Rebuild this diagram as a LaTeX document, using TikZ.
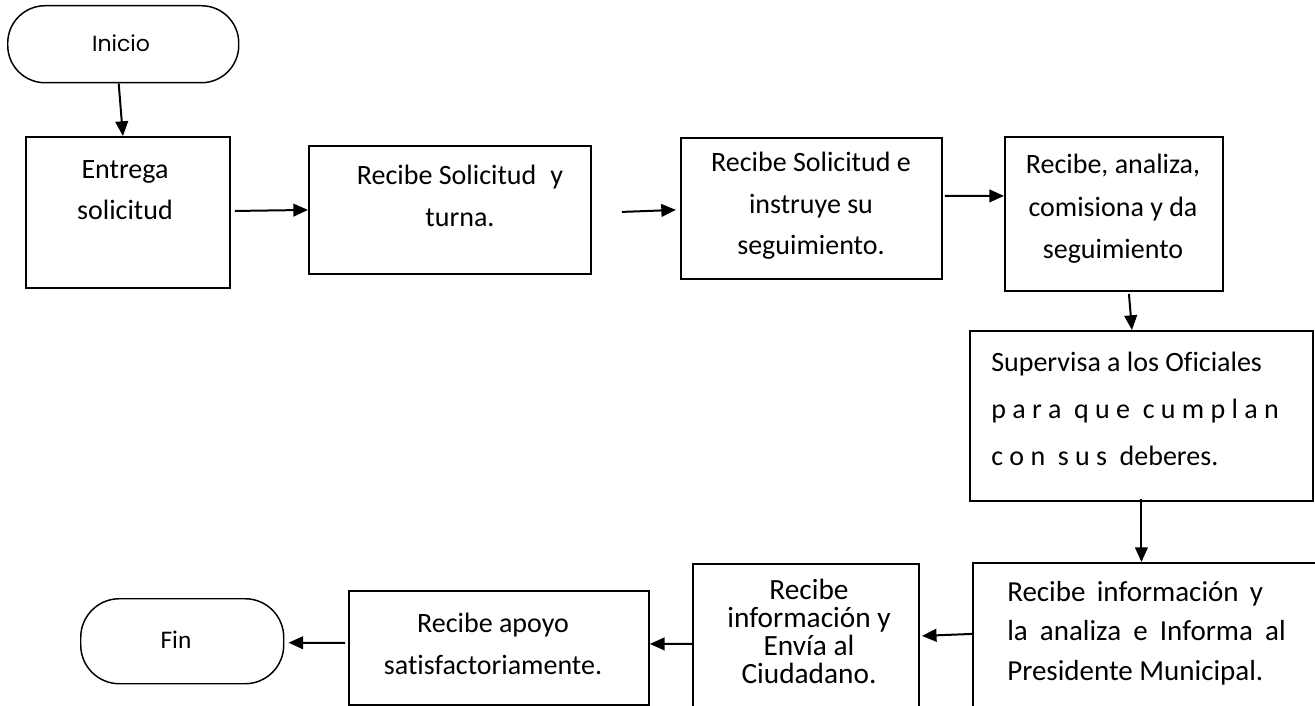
\documentclass[tikz,border=0pt]{standalone}
\usepackage{fontspec}
\setmainfont{Carlito}[Ligatures=NoCommon]
\newfontfamily\gothic{Poppins}
\usetikzlibrary{arrows.meta,shapes.misc}
\begin{document}
\begin{tikzpicture}[x=0.75pt,y=-0.75pt,
  box/.style={draw,line width=1.4pt,rectangle,inner sep=0pt,anchor=north west},
  term/.style={draw,line width=1.1pt,rectangle,rounded corners=#1,inner sep=0pt,anchor=north west},
  txt/.style={font=\fontsize{21}{31}\selectfont,align=center,inner sep=0pt},
  ltxt/.style={font=\fontsize{21}{31}\selectfont,align=left,inner sep=0pt,anchor=west},
  flow/.style={line width=1.5pt,-{Triangle[length=11pt,width=9.5pt]}}]
\useasboundingbox (0,0) rectangle (1315,706);
\clip (0,0) rectangle (1315,706);

% terminals
\node[term=28pt,minimum width=231*0.75pt,minimum height=77*0.75pt] (ini) at (7,5) {};
\node[font=\gothic\fontsize{16.5}{18}\selectfont] (tini) at (121,43) {Inicio};
\node[term=29pt,minimum width=203*0.75pt,minimum height=85*0.75pt] (fin) at (80,598) {};
\node[font=\fontsize{19}{22}\selectfont] (tfin) at (176,640) {Fin};

% process boxes
\node[box,minimum width=204*0.75pt,minimum height=151*0.75pt] (b1) at (25,136) {};
\node[box,minimum width=282*0.75pt,minimum height=128*0.75pt] (b2) at (308,145) {};
\node[box,minimum width=261*0.75pt,minimum height=141*0.75pt] (b3) at (680,137) {};
\node[box,minimum width=218*0.75pt,minimum height=154*0.75pt] (b4) at (1004,136) {};
\node[box,minimum width=343*0.75pt,minimum height=170*0.75pt] (b5) at (969,330) {};
\node[box,minimum width=358*0.75pt,minimum height=158*0.75pt] (b6) at (972,562) {};
\node[box,minimum width=226*0.75pt,minimum height=157*0.75pt] (b7) at (692,563) {};
\node[box,minimum width=300*0.75pt,minimum height=114*0.75pt] (b8) at (348,590) {};

% box texts
\node[txt] (t1) at (125,190) {Entrega\\solicitud};
\node[txt] (t2) at (460,196) {Recibe Solicitud\hspace{0.5em}y\\turna.};
\node[txt] (t3) at (811,206) {Recibe Solicitud e\\instruye su\\seguimiento.};
\node[txt,font=\fontsize{21}{32}\selectfont] (t4) at (1113,209) {Recibe, analiza,\\comisiona y da\\seguimiento};
\node[ltxt,font=\fontsize{21}{35}\selectfont] (t5) at (991,409) {Supervisa a los Oficiales\\p a r a\hspace{0.45em}q u e\hspace{0.45em}c u m p l a n\\c o n\hspace{0.45em}s u s\hspace{0.45em}deberes.};
\node[ltxt,font=\fontsize{21.75}{29.6}\selectfont] (t6) at (1007,633) {Recibe\hspace{0.39em}información\hspace{0.39em}y\\la\hspace{0.42em}analiza\hspace{0.42em}e\hspace{0.42em}Informa\hspace{0.42em}al\\Presidente Municipal.};
\node[txt,font=\fontsize{22}{21}\selectfont] (t7) at (809,631) {Recibe\\información y\\Envía al\\Ciudadano.};
\node[txt] (t8) at (493,644) {Recibe apoyo\\satisfactoriamente.};

% connectors
\draw[flow] ([xshift=-3.4pt]ini.south) -- ([xshift=-3.75pt]b1.north);
\draw[flow] ([xshift=3pt,yshift=1.1pt]b1.east) -- (b2.west);
\draw[flow] ([xshift=22.5pt,yshift=-1.5pt]b2.east) -- ([xshift=-3pt,yshift=-1.1pt]b3.west);
\draw[flow] ([xshift=1.5pt,yshift=9.4pt]b3.east) -- ([yshift=13.5pt]b4.west);
\draw[flow] ([xshift=11.25pt,yshift=-1.5pt]b4.south) -- ([xshift=-7.1pt]b5.north);
\draw[flow] ([yshift=2.25pt]b5.south) -- (b5.south |- b6.north);
\draw[flow] ([yshift=6pt]b6.west) -- ([xshift=1.5pt,yshift=4.9pt]b7.east);
\draw[flow] ([yshift=-1.1pt]b7.west) -- ([yshift=3pt]b8.east);
\draw[flow] ([xshift=-2.25pt,yshift=3.75pt]b8.west) -- ([xshift=3pt,yshift=-1.1pt]fin.east);
\end{tikzpicture}
\end{document}
